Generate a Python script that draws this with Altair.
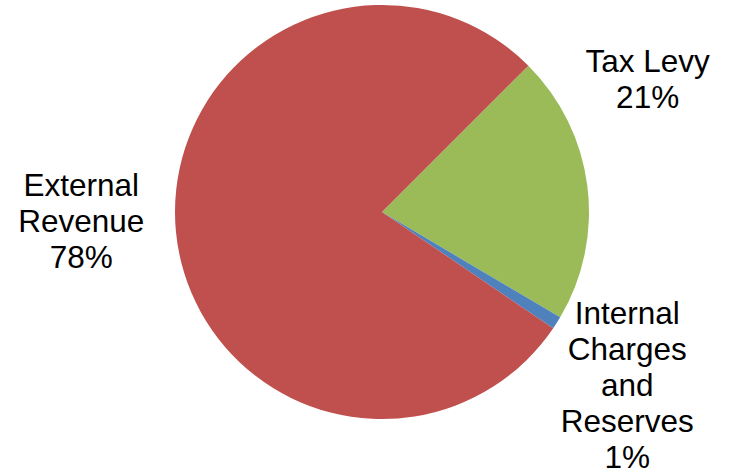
import altair as alt
import pandas as pd
import math

categories = ["Tax Levy", "Internal Charges and Reserves", "External Revenue"]
values = [21, 1, 78]
labels = ["Tax Levy\n21%", "Internal\nCharges\nand\nReserves\n1%", "External\nRevenue\n78%"]
colors = ["#9BBB59", "#4F81BD", "#C0504D"]

df = pd.DataFrame({"category": categories, "value": values, "label": labels,
                   "order": list(range(len(categories)))})

cx, cy, R = 382, 212, 207
start = math.pi / 4
theta_scale = alt.Scale(domain=[0, 100], range=[start, start + 2 * math.pi])

base = alt.Chart(df)

pie = base.mark_arc(radius=R).encode(
    theta=alt.Theta("value:Q", stack=True, scale=theta_scale),
    color=alt.Color("category:N", scale=alt.Scale(domain=categories, range=colors), legend=None),
    order=alt.Order("order:Q"),
    x=alt.value(cx),
    y=alt.value(cy),
)

text_base = base.transform_window(
    cum="sum(value)", sort=[alt.SortField("order")]
).transform_calculate(mid="datum.cum - datum.value / 2")

offsets = {"Tax Levy": (-32, -111), "Internal Charges and Reserves": (-8, -58), "External Revenue": (-2, -53)}

layers = [pie]
for cat in categories:
    ddx, ddy = offsets[cat]
    layers.append(
        text_base.transform_filter(alt.datum.category == cat).mark_text(
            font="Liberation Sans", fontSize=31.5, lineHeight=36, lineBreak="\n",
            align="center", baseline="middle", color="#000000", dx=ddx, dy=ddy,
        ).encode(
            theta=alt.Theta("mid:Q", stack=None, scale=theta_scale),
            radius=alt.value(300),
            text="label:N",
            x=alt.value(cx),
            y=alt.value(cy),
        )
    )

chart = alt.layer(*layers).properties(
    width=730, height=475, autosize=alt.AutoSizeParams(type="none"), padding=0,
    background="#ffffff",
).configure_view(stroke=None)

chart.save("out.html", embed_options={"renderer": "svg", "actions": False})
